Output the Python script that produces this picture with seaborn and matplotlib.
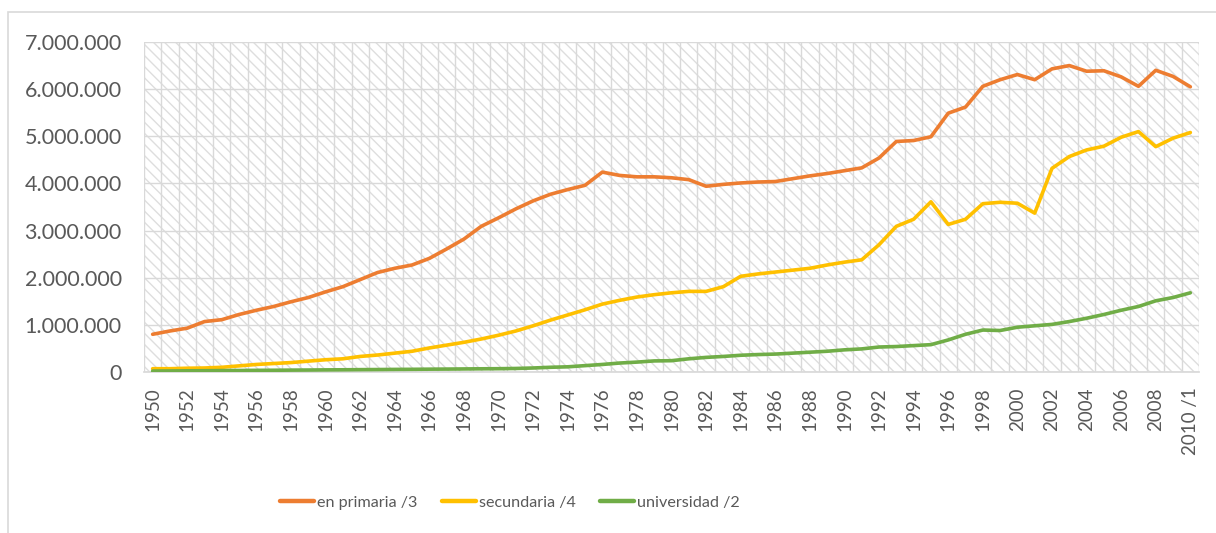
import numpy as np
import pandas as pd
import matplotlib
matplotlib.use("Agg")
import matplotlib.pyplot as plt
import seaborn as sns
from matplotlib.patches import Rectangle
from matplotlib.ticker import FuncFormatter
from matplotlib import font_manager

years = list(range(1950, 2011))
year_labels = [str(y) if y < 2010 else "2010 /1" for y in years]

primaria = [0.80, 0.87, 0.93, 1.07, 1.11, 1.22, 1.31, 1.39, 1.49, 1.58,
            1.70, 1.81, 1.96, 2.11, 2.20, 2.27, 2.41, 2.61, 2.82, 3.09,
            3.27, 3.46, 3.63, 3.77, 3.87, 3.96, 4.24, 4.17, 4.14, 4.14,
            4.12, 4.08, 3.94, 3.98, 4.01, 4.03, 4.04, 4.10, 4.16, 4.21,
            4.27, 4.33, 4.54, 4.89, 4.91, 4.99, 5.49, 5.62, 6.06, 6.20,
            6.31, 6.20, 6.43, 6.50, 6.38, 6.39, 6.26, 6.06, 6.40, 6.27,
            6.05]
secundaria = [0.07, 0.07, 0.08, 0.085, 0.10, 0.13, 0.16, 0.18, 0.20, 0.23,
              0.26, 0.28, 0.33, 0.36, 0.40, 0.44, 0.51, 0.57, 0.63, 0.70,
              0.78, 0.87, 0.98, 1.10, 1.21, 1.32, 1.44, 1.52, 1.59, 1.64,
              1.68, 1.71, 1.71, 1.81, 2.03, 2.08, 2.12, 2.16, 2.20, 2.27,
              2.33, 2.38, 2.70, 3.09, 3.24, 3.61, 3.13, 3.24, 3.57, 3.60,
              3.58, 3.37, 4.32, 4.57, 4.71, 4.79, 4.98, 5.10, 4.78, 4.96,
              5.08]
universidad = [0.02, 0.022, 0.025, 0.027, 0.03, 0.032, 0.035, 0.037, 0.04, 0.042,
               0.045, 0.047, 0.05, 0.052, 0.055, 0.057, 0.06, 0.062, 0.065, 0.068,
               0.07, 0.075, 0.085, 0.10, 0.11, 0.135, 0.16, 0.19, 0.21, 0.235,
               0.24, 0.28, 0.31, 0.33, 0.355, 0.37, 0.38, 0.40, 0.42, 0.44,
               0.47, 0.49, 0.53, 0.54, 0.56, 0.58, 0.68, 0.80, 0.89, 0.88,
               0.95, 0.98, 1.01, 1.07, 1.14, 1.22, 1.31, 1.39, 1.51, 1.58,
               1.68]

series_names = ["en primaria /3", "secundaria /4", "universidad /2"]
colors = ["#ED7D31", "#FFC000", "#70AD47"]

rows = []
for name, vals in zip(series_names, [primaria, secundaria, universidad]):
    for i, v in enumerate(vals):
        rows.append({"pos": i, "valor": v * 1_000_000, "serie": name})
df = pd.DataFrame(rows)

sns.set_theme(style="white")
plt.rcParams["font.family"] = ["Lato", "DejaVu Sans"]
plt.rcParams["hatch.color"] = "#dedede"
plt.rcParams["hatch.linewidth"] = 1.0

# narrow font for the legend if available
legend_family = "Lato"
legend_size = 11.6
try:
    font_manager.findfont(font_manager.FontProperties(family="Liberation Sans Narrow"),
                          fallback_to_default=False)
    legend_family = "Liberation Sans Narrow"
    legend_size = 13.2
except Exception:
    pass

fig = plt.figure(figsize=(12.16, 5.33), dpi=100)
# outer chart border
fig.patches.append(Rectangle((8 / 1216, -0.05), 1.1, (533 - 12) / 533 + 0.05,
                             transform=fig.transFigure, fill=False,
                             edgecolor="#d9d9d9", linewidth=1.2, zorder=0))

ax = fig.add_axes([144 / 1216, 1 - 372 / 533, (1199 - 144) / 1216, (372 - 42) / 533])

ax.add_patch(Rectangle((0, 0), 1, 1, transform=ax.transAxes, facecolor="white",
                       hatch="\\\\\\", edgecolor="#dedede", linewidth=0, zorder=0))

sns.lineplot(data=df, x="pos", y="valor", hue="serie", hue_order=series_names,
             palette=colors, linewidth=2.6, ax=ax, legend=True, zorder=3)

ax.set_xlim(-0.5, len(years) - 0.5)
ax.set_ylim(0, 7_000_000)
ax.set_yticks(np.arange(0, 7_000_001, 1_000_000))
ax.yaxis.set_major_formatter(FuncFormatter(lambda v, p: f"{int(v):,}".replace(",", ".")))

# vertical gridlines at category boundaries
for b in np.arange(-0.5, len(years) + 0.5, 1):
    ax.axvline(b, color="#d9d9d9", linewidth=1.0, zorder=1)
for yv in range(0, 7_000_001, 1_000_000):
    ax.axhline(yv, color="#d9d9d9", linewidth=1.0, zorder=1)

tick_pos = list(range(0, len(years), 2))
ax.set_xticks(tick_pos)
ax.set_xticklabels([year_labels[i] for i in tick_pos], rotation=90)
ax.tick_params(axis="both", length=0, labelcolor="#595959")
ax.tick_params(axis="x", pad=11, labelsize=13.5)
ax.tick_params(axis="y", pad=16, labelsize=15.5)
ax.set_xlabel("")
ax.set_ylabel("")
for s in ax.spines.values():
    s.set_visible(False)
ax.spines["bottom"].set_visible(True)
ax.spines["bottom"].set_color("#d9d9d9")

leg = ax.legend(loc="center", ncol=3, frameon=False,
                prop={"family": legend_family, "size": legend_size},
                handlelength=2.1, columnspacing=1.5, handletextpad=0.2,
                labelcolor="#595959")
leg.set_bbox_to_anchor((510 / 1216, 1 - 503 / 533), transform=fig.transFigure)
for line in leg.get_lines():
    line.set_linewidth(3.2)
    line.set_solid_capstyle("round")

fig.savefig("out.png", dpi=100)
